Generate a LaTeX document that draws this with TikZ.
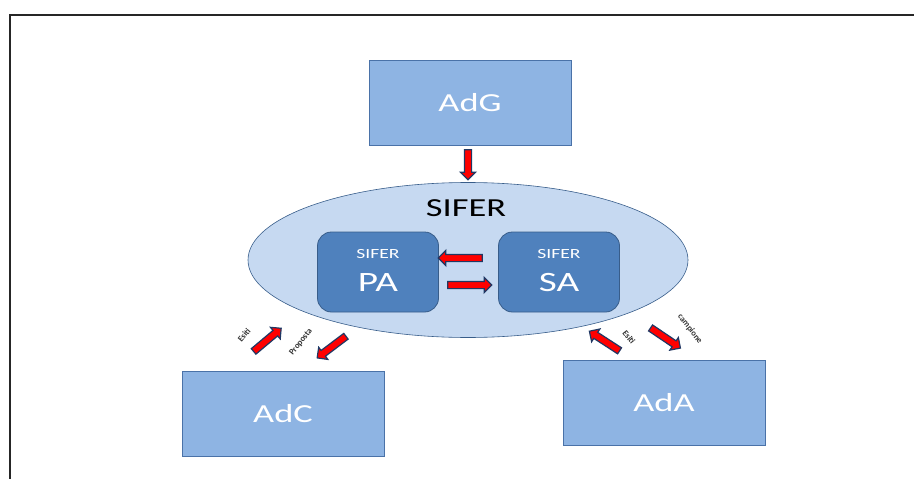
\documentclass[tikz,border=0pt]{standalone}
\usepackage{fontspec}
\usepackage{graphicx}
\setmainfont{Carlito}
\usetikzlibrary{shapes.geometric, shapes.arrows}

\definecolor{boxfill}{HTML}{8EB4E3}
\definecolor{boxline}{HTML}{4A72A8}
\definecolor{ovalfill}{HTML}{C6D9F1}
\definecolor{ovalline}{HTML}{385D8A}
\definecolor{innerfill}{HTML}{4F81BD}
\definecolor{arrline}{HTML}{1F3864}

\newcommand{\wide}[1]{\scalebox{1.4}[1]{#1}}

\tikzset{
	actor/.style={draw=boxline, fill=boxfill, thick, minimum width=202pt, minimum height=85pt, text=white, font=\fontsize{26}{30}\selectfont},
	module/.style={draw=ovalline, fill=innerfill, thick, rounded corners=14pt, minimum width=121pt, minimum height=80pt},
	flow/.style={single arrow, draw=arrline, fill=red, line width=1.2pt, inner sep=3pt, single arrow head extend=4pt, minimum height=#1},
	flow/.default=36pt,
	tag/.style={font=\bfseries\fontsize{8.5}{9}\selectfont, text=black!80, inner sep=1pt}
}

\begin{document}
\begin{tikzpicture}[x=1pt, y=-1pt]
	\useasboundingbox (0,0) rectangle (914,479);
	\draw[line width=2pt, black!85] (10,479) -- (10,15) -- (914,15);

	% top and bottom boxes
	\node[actor] (adg) at (470,103) {\wide{AdG}};
	\node[actor] (adc) at (283,414) {\wide{AdC}};
	\node[actor] (ada) at (664,403) {\wide{AdA}};

	% SIFER system
	\node[ellipse, draw=ovalline, fill=ovalfill, semithick, minimum width=440pt, minimum height=155pt] (sifer) at (468,260) {};
	\node[font=\fontsize{26}{30}\selectfont] (siferlbl) at (466,208) {\wide{SIFER}};

	\node[module] (pa) at (378,272) {};
	\node[module] (sa) at (559,272) {};
	\foreach \name/\x/\sub in {patop/378/PA, satop/559/SA} {
		\node[text=white, font=\fontsize{14}{16}\selectfont] (\name) at (\x,254) {\wide{SIFER}};
		\node[text=white, font=\fontsize{28}{30}\selectfont] (\name sub) at (\x,283) {\wide{\sub}};
	}

	% flows
	\node[flow=30pt, rotate=-90] (fadg) at (468,163) {};
	\node[flow=44pt, rotate=180] (fsapa) at (462,258) {};
	\node[flow=44pt] (fpasa) at (468,285) {};

	\node[flow=36pt, rotate=40] (fesitic) at (266,341) {};
	\node[flow=36pt, rotate=217] (fprop) at (333,346) {};
	\node[flow=36pt, rotate=147] (fesitia) at (606,342) {};
	\node[flow=36pt, rotate=-34] (fcamp) at (664,337) {};

	\node[tag, rotate=50] (lesitic) at (244,335) {Esiti};
	\node[tag, rotate=52] (lprop) at (301,342) {Proposta};
	\node[tag, rotate=-52] (lesitia) at (629,337) {Esiti};
	\node[tag, rotate=-52] (lcamp) at (690,329) {campione};
\end{tikzpicture}
\end{document}
